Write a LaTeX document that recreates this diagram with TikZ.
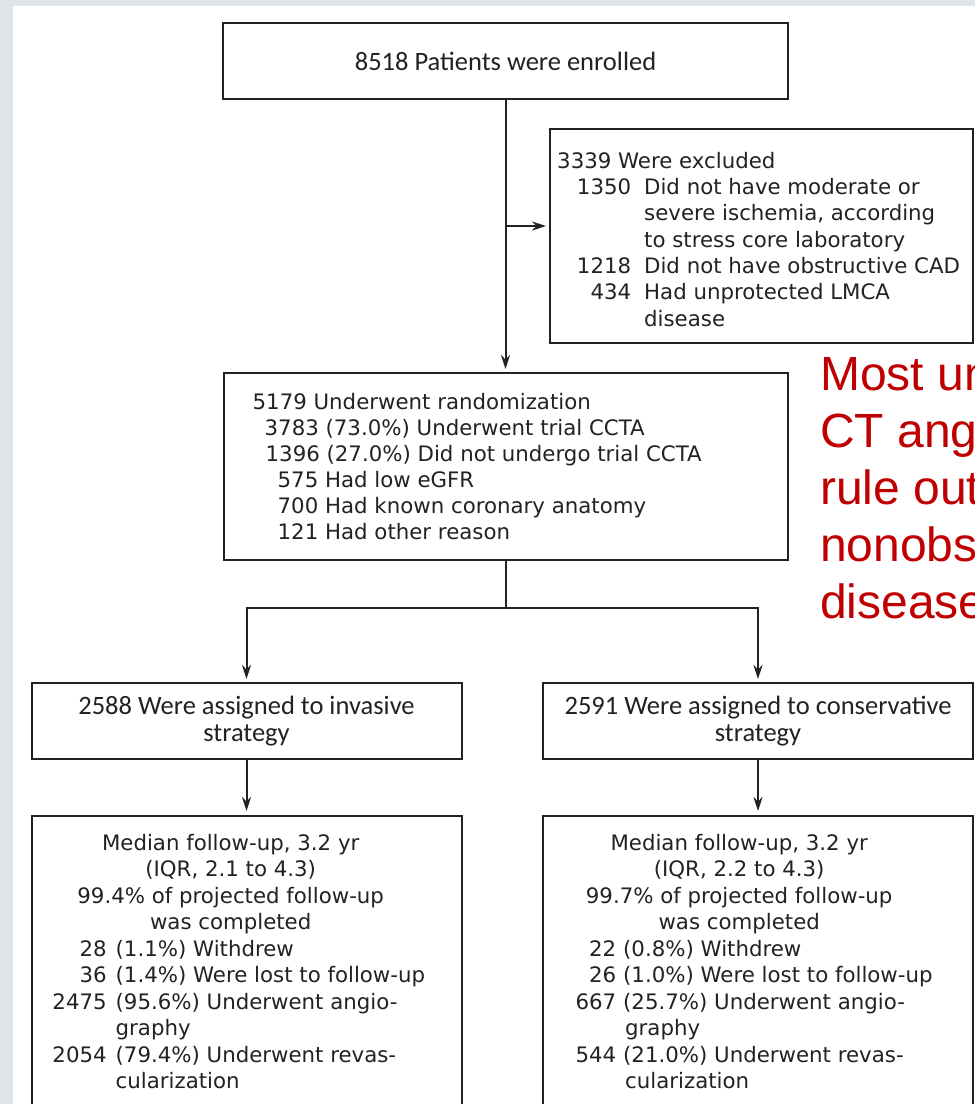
\documentclass[tikz,border=0pt]{standalone}
\usepackage{fontspec}
\setmainfont{DejaVu Sans}
\newfontfamily\condfont{Carlito}
\newfontfamily\notefont{Liberation Sans}
\usetikzlibrary{arrows.meta}
\definecolor{framegrey}{RGB}{225,229,234}
\definecolor{ink}{RGB}{34,34,34}
\definecolor{notered}{RGB}{192,0,0}

% a count right-aligned in a column of width #1, then a gap #3 and its label
\newcommand\numrow[4]{\makebox[#1][r]{#2}\hspace{#3}#4}

\tikzset{
  flowbox/.style={draw=ink, line width=2pt, fill=white, rectangle, inner sep=0pt},
  condtext/.style={font=\condfont\fontsize{26.5}{27}\selectfont, text=ink, align=center},
  bodytext/.style={inner sep=0pt, anchor=north west, text=ink},
  link/.style={draw=ink, line width=2pt},
  arrowlink/.style={link, -{Stealth[length=14pt,width=9pt]}, shorten >=3pt},
}

\begin{document}
\begin{tikzpicture}[x=1pt,y=-1pt]
\useasboundingbox (0,0) rectangle (975,1104);
\clip (0,0) rectangle (975,1104);
\fill[framegrey] (0,0) rectangle (975,1104);
\fill[white] (13,6) rectangle (990,1120);

% boxes
\node[flowbox, condtext, minimum width=565pt, minimum height=76pt] (enrol) at (505.5,61) {8518 Patients were enrolled};
\node[flowbox, minimum width=423pt, minimum height=214pt] (excl) at (761.5,236) {};
\node[flowbox, minimum width=564pt, minimum height=187pt] (rand) at (505.5,466.5) {};
\node[flowbox, condtext, minimum width=430pt, minimum height=76pt] (inv) at (246.5,721) {2588 Were assigned to invasive\\strategy};
\node[flowbox, condtext, minimum width=430pt, minimum height=76pt] (cons) at (758,721) {2591 Were assigned to conservative\\strategy};
\node[flowbox, minimum width=430pt, minimum height=330pt] (finv) at (246.5,981) {};
\node[flowbox, minimum width=430pt, minimum height=330pt] (fcons) at (758,981) {};

% box contents
\node[bodytext] (excltext) at ([xshift=8pt]excl.north west) {\fontsize{21.3}{26.3}\selectfont\parbox[t]{420pt}{\raggedright
\rule{0pt}{40pt}3339 Were excluded\\
\numrow{74pt}{1350}{13pt}{Did not have moderate or}\\
\hspace*{87pt}severe ischemia, according\\
\hspace*{87pt}to stress core laboratory\\
\numrow{74pt}{1218}{13pt}{Did not have obstructive CAD}\\
\numrow{74pt}{434}{13pt}{Had unprotected LMCA}\\
\hspace*{87pt}disease}};

\node[bodytext] (randtext) at ([xshift=30pt]rand.north west) {\fontsize{21.3}{26}\selectfont\parbox[t]{520pt}{\raggedright
\rule{0pt}{37pt}5179 Underwent randomization\\
\hspace*{12pt}3783 (73.0\%) Underwent trial CCTA\\
\hspace*{13pt}1396 (27.0\%) Did not undergo trial CCTA\\
\hspace*{25pt}575 Had low eGFR\\
\hspace*{25pt}700 Had known coronary anatomy\\
\hspace*{25pt}121 Had other reason}};

\node[bodytext] (finvtext) at (finv.north west) {\fontsize{21.3}{26.5}\selectfont\parbox[t]{430pt}{\raggedright
\makebox[400pt][c]{\rule{0pt}{35pt}Median follow-up, 3.2 yr}\\
\makebox[400pt][c]{(IQR, 2.1 to 4.3)}\\
\makebox[400pt][c]{99.4\% of projected follow-up}\\
\makebox[400pt][c]{was completed}\\
\numrow{76pt}{28}{9pt}{(1.1\%) Withdrew}\\
\numrow{76pt}{36}{9pt}{(1.4\%) Were lost to follow-up}\\
\numrow{76pt}{2475}{9pt}{(95.6\%) Underwent angio-}\\
\hspace*{85pt}graphy\\
\numrow{76pt}{2054}{9pt}{(79.4\%) Underwent revas-}\\
\hspace*{85pt}cularization}};

\node[bodytext] (fconstext) at (fcons.north west) {\fontsize{21.3}{26.5}\selectfont\parbox[t]{430pt}{\raggedright
\makebox[394pt][c]{\rule{0pt}{35pt}Median follow-up, 3.2 yr}\\
\makebox[394pt][c]{(IQR, 2.2 to 4.3)}\\
\makebox[394pt][c]{99.7\% of projected follow-up}\\
\makebox[394pt][c]{was completed}\\
\numrow{74pt}{22}{7pt}{(0.8\%) Withdrew}\\
\numrow{74pt}{26}{7pt}{(1.0\%) Were lost to follow-up}\\
\numrow{74pt}{667}{7pt}{(25.7\%) Underwent angio-}\\
\hspace*{83pt}graphy\\
\numrow{74pt}{544}{7pt}{(21.0\%) Underwent revas-}\\
\hspace*{83pt}cularization}};

% red side note
\node[inner sep=0pt, anchor=north west, text=notered, font=\notefont\fontsize{48}{57}\selectfont] (note) at (820,350)
  {\parbox[t]{300pt}{\raggedright\rule{0pt}{40pt}Most un\\CT ang\\rule out\\nonobs\\disease}};

% connectors
\coordinate (split) at (505.5,226);
\coordinate (forkrow) at (0,608);
\draw[arrowlink] (enrol.south) -- (rand.north);
\draw[arrowlink] (split) -- (split -| excl.west);
\draw[link] (rand.south) -- (rand.south |- forkrow) coordinate (fork);
\draw[arrowlink] (fork) -| (inv.north);
\draw[arrowlink] (fork) -| (cons.north);
\draw[arrowlink, shorten >=4pt] (inv.south) -- (finv.north);
\draw[arrowlink, shorten >=4pt] (cons.south) -- (fcons.north);
\end{tikzpicture}
\end{document}
